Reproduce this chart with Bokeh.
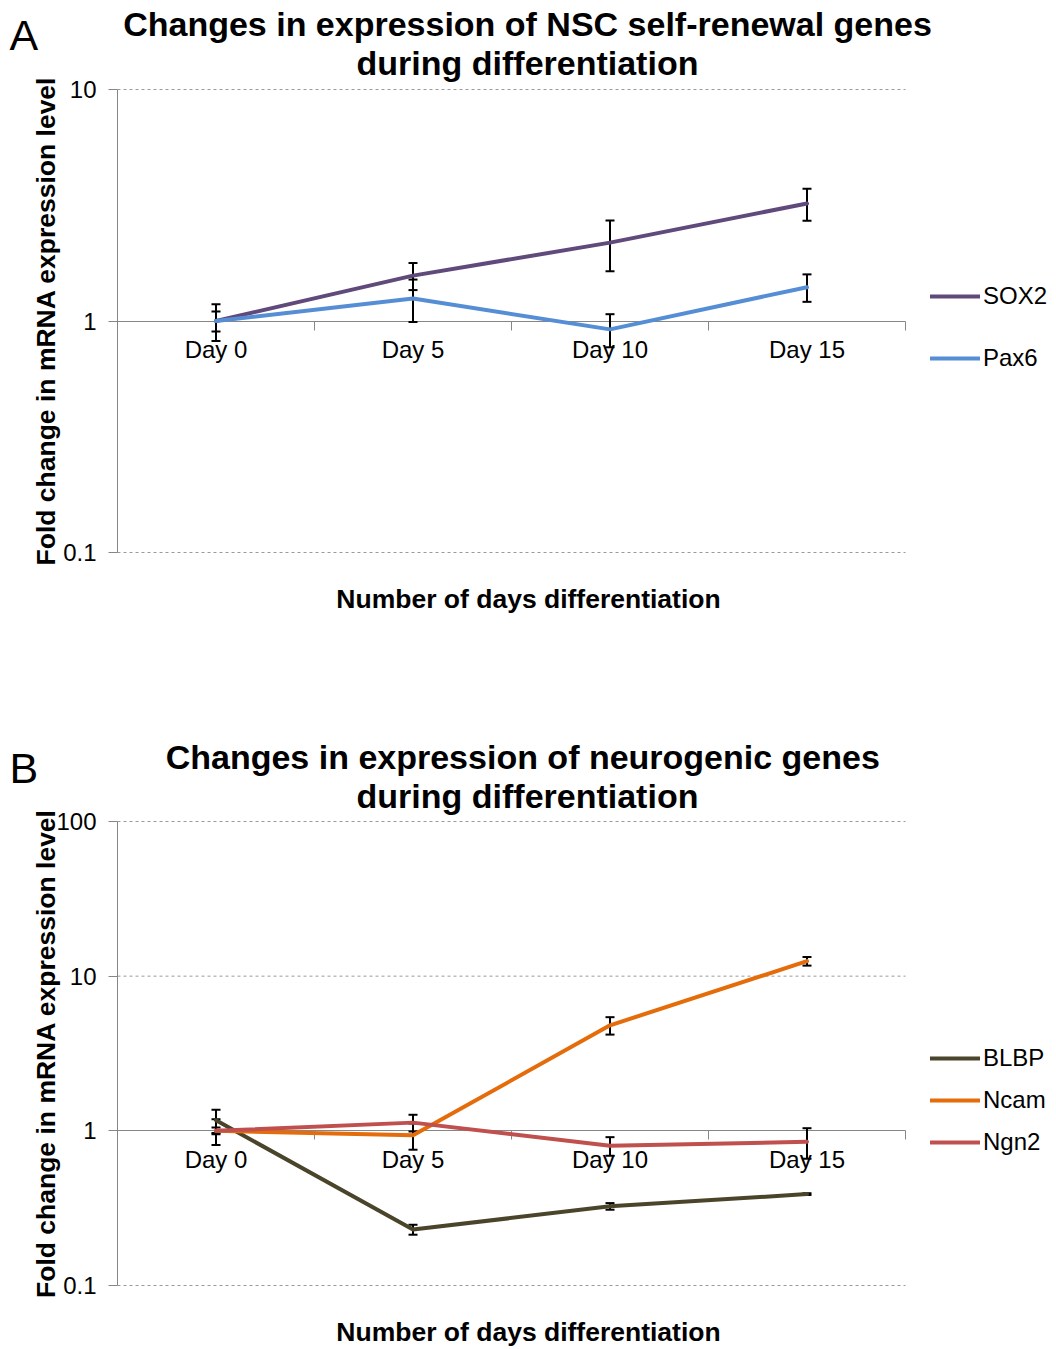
import math
from bokeh.plotting import figure
from bokeh.models import (Range1d, FixedTicker, LinearAxis, Label, Legend,
                          LegendItem, Whisker, TeeHead, ColumnDataSource)
from bokeh.layouts import column
from bokeh.embed import file_html
from bokeh.resources import INLINE

# ---------------- data ----------------
days = ["Day 0", "Day 5", "Day 10", "Day 15"]

sox2 = [1.0, 1.57, 2.18, 3.22]
sox2_err = [0.18, 0.21, 0.54, 0.51]
pax6 = [1.0, 1.25, 0.92, 1.40]
pax6_err = [0.10, 0.26, 0.15, 0.19]

blbp = [1.17, 0.23, 0.325, 0.39]
blbp_err = [0.20, 0.017, 0.016, 0.005]
ncam = [1.0, 0.935, 4.81, 12.5]
ncam_err = [0.19, 0.18, 0.62, 0.80]
ngn2 = [1.0, 1.13, 0.80, 0.85]
ngn2_err = [0.05, 0.14, 0.11, 0.19]

yticks_a = [0.1, 1, 10]
yticks_b = [0.1, 1, 10, 100]

title_a = ["Changes in expression of NSC self-renewal genes", "during differentiation"]
title_b = ["Changes in expression of  neurogenic genes", "during differentiation"]
xlabel = "Number of days differentiation"
ylabel = "Fold change in mRNA expression level"

FONT = "Liberation Sans"
GREY = "#868686"
W = 1056
PLOT_LEFT, PLOT_RIGHT = 117, 905          # plot-area pixel extent

# category slots: each category occupies one unit, centred at i + 0.5
xpos = [i + 0.5 for i in range(len(days))]
bounds = [i + 1 for i in range(len(days))]


def make_panel(letter, title, height, area_top, area_bottom, ymin, ymax, yticks,
               series, legend_loc, legend_spacing):
    # the frame covers the whole canvas; ranges are widened so that the data
    # area lands on the wanted pixel box
    slot = (PLOT_RIGHT - PLOT_LEFT) / len(days)
    x_range = Range1d(-PLOT_LEFT / slot, len(days) + (W - PLOT_RIGHT) / slot)
    ppd = (area_bottom - area_top) / (math.log10(ymax) - math.log10(ymin))
    y_range = Range1d(10 ** (math.log10(ymin) - (height - area_bottom) / ppd),
                      10 ** (math.log10(ymax) + area_top / ppd))

    p = figure(x_range=x_range, y_range=y_range, y_axis_type="log",
               width=W, height=height, output_backend="svg", toolbar_location=None,
               min_border=0, min_border_left=0, min_border_right=0,
               min_border_top=0, min_border_bottom=0)
    p.title.visible = False
    p.outline_line_color = None
    p.background_fill_color = "white"
    p.border_fill_color = "white"
    p.grid.visible = False

    # y axis at the left edge of the category area
    ya = p.yaxis[0]
    ya.fixed_location = 0
    ya.bounds = (ymin, ymax)
    ya.ticker = FixedTicker(ticks=yticks)
    ya.major_label_overrides = {t: ("%g" % t) for t in yticks}
    ya.minor_tick_line_color = None
    ya.axis_line_color = GREY
    ya.major_tick_line_color = GREY
    ya.major_tick_in = 0
    ya.major_tick_out = 9
    ya.major_label_standoff = 12
    ya.major_label_text_font = FONT
    ya.major_label_text_font_size = "24px"
    ya.major_label_text_color = "black"

    # dashed gridlines
    gt = [t for t in yticks if t != 1]
    p.segment(x0=[0] * len(gt), x1=[len(days)] * len(gt), y0=gt, y1=gt,
              line_color="#9A9A9A", line_width=1, line_dash="3 3")

    # axis line crossing at 1, ticks between categories
    xa = p.xaxis[0]
    xa.fixed_location = 1
    xa.bounds = (0, len(days))
    xa.ticker = FixedTicker(ticks=bounds)
    xa.major_label_overrides = {t: "" for t in bounds}
    xa.axis_line_color = GREY
    xa.major_tick_line_color = GREY
    xa.minor_tick_line_color = None
    xa.major_tick_in = 0
    xa.major_tick_out = 9
    xa.level = "underlay"

    # category labels
    la = LinearAxis(ticker=FixedTicker(ticks=xpos),
                    major_label_overrides={x: d for x, d in zip(xpos, days)},
                    fixed_location=1, axis_line_color=None, major_tick_line_color=None,
                    minor_tick_line_color=None, major_tick_in=0, major_tick_out=0,
                    major_label_standoff=15, major_label_text_font=FONT,
                    major_label_text_font_size="24px", major_label_text_color="black",
                    level="underlay")
    p.add_layout(la, "below")

    items = []
    for name, vals, errs, color in series:
        r = p.line(x=xpos, y=vals, line_color=color, line_width=4, line_cap="round",
                   line_join="round")
        items.append(LegendItem(label=name, renderers=[r]))
    for name, vals, errs, color in series:
        src = ColumnDataSource(dict(x=xpos,
                                    upper=[v + e for v, e in zip(vals, errs)],
                                    lower=[v - e for v, e in zip(vals, errs)]))
        w = Whisker(base="x", upper="upper", lower="lower", source=src,
                    line_color="black", line_width=2,
                    upper_head=TeeHead(size=9, line_width=2, line_color="black"),
                    lower_head=TeeHead(size=9, line_width=2, line_color="black"))
        p.add_layout(w)

    legend = Legend(items=items, location=legend_loc, glyph_width=50, glyph_height=24,
                    label_height=24, label_text_font=FONT, label_text_font_size="24px",
                    label_text_color="black", label_standoff=3, spacing=legend_spacing,
                    padding=0, margin=0, border_line_alpha=0, background_fill_alpha=0)
    p.add_layout(legend)

    # texts, positioned in canvas pixels (given from the top)
    def put(x, y_top, text, size, style="normal", align="center", baseline="alphabetic",
            angle=0):
        p.add_layout(Label(x=x, y=height - y_top, x_units="screen", y_units="screen",
                           text=text, text_font=FONT, text_font_size=size,
                           text_font_style=style, text_align=align,
                           text_baseline=baseline, text_color="black",
                           angle=angle, angle_units="deg"))

    put(9, 34, letter, "43px", align="left")
    put(527, 23, title[0], "34px", "bold")
    put(527, 62, title[1], "34px", "bold")
    put(528, 598, xlabel, "26.5px", "bold")
    put(45, (area_top + area_bottom) / 2, ylabel, "26.5px", "bold",
        baseline="middle", angle=90)
    return p


pa = make_panel("A", title_a, 733, 89, 552, 0.1, 10, yticks_a,
                [("SOX2", sox2, sox2_err, "#604A7B"),
                 ("Pax6", pax6, pax6_err, "#558ED5")],
                (930, 361), 34)
pb = make_panel("B", title_b, 616, 88, 552, 0.1, 100, yticks_b,
                [("BLBP", blbp, blbp_err, "#4A452A"),
                 ("Ncam", ncam, ncam_err, "#E46C0A"),
                 ("Ngn2", ngn2, ngn2_err, "#C0504D")],
                (930, 193), 14)

layout = column(pa, pb, spacing=0)
open("out.html", "w").write(file_html(layout, INLINE))
